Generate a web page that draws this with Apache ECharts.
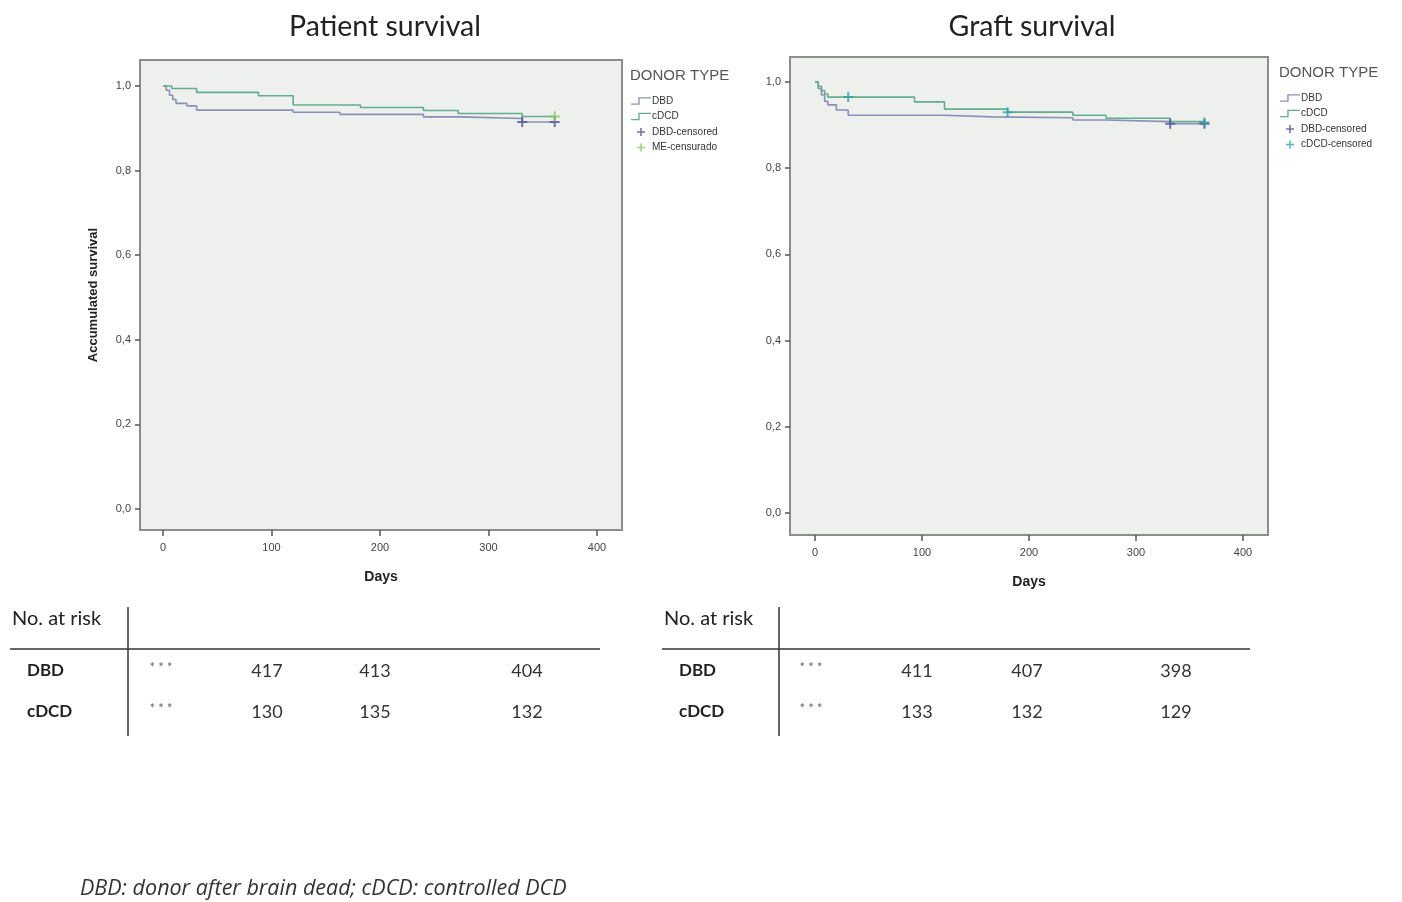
<!DOCTYPE html>
<html>
<head>
<meta charset="utf-8">
<script src="https://cdn.jsdelivr.net/npm/echarts@6/dist/echarts.min.js"></script>
<style>
html,body{margin:0;padding:0;background:#fff;}
#chart{width:1402px;height:902px;}
</style>
</head>
<body>
<div id="chart"></div>
<script>
// ---------- DATA ----------
const chartTitles = ['Patient survival', 'Graft survival'];
const xTickValues = [0, 100, 200, 300, 400];
const yTickValues = [0, 0.2, 0.4, 0.6, 0.8, 1.0];

// Patient survival (Kaplan-Meier steps)
const patientDBDDays = [0, 3, 6, 9, 12, 22, 31, 120, 163, 240, 274, 331, 361];
const patientDBDSurv = [1.0, 0.99, 0.978, 0.968, 0.959, 0.953, 0.943, 0.938, 0.933, 0.927, 0.923, 0.915, 0.915];
const patientCDCDDays = [0, 8, 31, 88, 120, 182, 240, 272, 331, 361];
const patientCDCDSurv = [1.0, 0.994, 0.985, 0.977, 0.955, 0.949, 0.942, 0.935, 0.928, 0.928];
const patientDBDCensDays = [331, 361];
const patientDBDCensSurv = [0.915, 0.915];
const patientCDCDCensDays = [361];
const patientCDCDCensSurv = [0.928];

// Graft survival
const graftDBDDays = [0, 3, 6, 9, 12, 20, 31, 120, 166, 241, 272, 332, 364];
const graftDBDSurv = [1.0, 0.985, 0.97, 0.955, 0.947, 0.935, 0.923, 0.919, 0.917, 0.912, 0.908, 0.903, 0.903];
const graftCDCDDays = [0, 3, 6, 9, 12, 93, 121, 180, 241, 272, 332, 364];
const graftCDCDSurv = [1.0, 0.99, 0.98, 0.972, 0.965, 0.954, 0.937, 0.93, 0.923, 0.916, 0.908, 0.906];
const graftDBDCensDays = [332, 364];
const graftDBDCensSurv = [0.903, 0.903];
const graftCDCDCensDays = [31, 180, 364];
const graftCDCDCensSurv = [0.965, 0.93, 0.906];

const legendTitle = 'DONOR TYPE';
const patientLegendNames = ['DBD', 'cDCD', 'DBD-censored', 'ME-censurado'];
const graftLegendNames = ['DBD', 'cDCD', 'DBD-censored', 'cDCD-censored'];

// No. at risk tables
const riskHeader = 'No. at risk';
const riskRowLabels = ['DBD', 'cDCD'];
const patientRiskDBD = ['***', '417', '413', '404'];
const patientRiskCDCD = ['***', '130', '135', '132'];
const graftRiskDBD = ['***', '411', '407', '398'];
const graftRiskCDCD = ['***', '133', '132', '129'];

const footnote = 'DBD: donor after brain dead; cDCD: controlled DCD';

// ---------- STYLE / LAYOUT ----------
const FONT = 'Lato, "Open Sans", "DejaVu Sans", sans-serif';
const FOOTFONT = '"Open Sans", Lato, sans-serif';
const AXFONT = '"Liberation Sans", Arial, sans-serif';
const C_DBD = '#8a8fb8';
const C_CDCD = '#62ad8e';
const C_DBD_CENS = '#4f4f9a';
const C_ME_CENS = '#8cc45a';
const C_CDCD_CENS = '#2fa3a0';
const PLUS = 'path://M4,0h2v10h-2zM0,4h10v2h-10z';
const STEP = 'path://M0,7h8v-7h14v1.5h-12.5v7h-9.5z';

const zip = (a, b) => a.map((v, i) => [v, b[i]]);
const fmtY = v => v.toFixed(1).replace('.', ',');

const grids = [
  {left: 140, top: 60, width: 482, height: 470},
  {left: 790, top: 57, width: 478, height: 478}
];
const xRanges = [[-21.2, 423], [-23.4, 423.4]];
const yRanges = [[-0.05, 1.0615], [-0.0510, 1.058]];

function mkX(i) {
  return {
    type: 'value', gridIndex: i, min: xRanges[i][0], max: xRanges[i][1],
    name: 'Days', nameLocation: 'middle', nameGap: 40,
    nameTextStyle: {fontFamily: AXFONT, fontWeight: 'bold', fontSize: 14, color: '#222'},
    axisLine: {show: false, onZero: false}, splitLine: {show: false},
    axisTick: {show: true, inside: false, length: 6, customValues: xTickValues, lineStyle: {color: '#555', width: 1.5}},
    axisLabel: {customValues: xTickValues, fontFamily: AXFONT, fontSize: 11, color: '#444', margin: 12}
  };
}
function mkY(i) {
  return {
    type: 'value', gridIndex: i, min: yRanges[i][0], max: yRanges[i][1],
    name: i === 0 ? 'Accumulated survival' : '', nameLocation: 'middle', nameGap: 40,
    nameTextStyle: {fontFamily: AXFONT, fontWeight: 'bold', fontSize: 13, color: '#222'},
    axisLine: {show: false, onZero: false}, splitLine: {show: false},
    axisTick: {show: true, length: 5, customValues: yTickValues, lineStyle: {color: '#555', width: 1.5}},
    axisLabel: {customValues: yTickValues, formatter: fmtY, fontFamily: AXFONT, fontSize: 11, color: '#444', margin: 9}
  };
}
function lineS(name, gi, days, surv, color) {
  return {type: 'line', name, xAxisIndex: gi, yAxisIndex: gi, step: 'end', showSymbol: false,
    data: zip(days, surv), lineStyle: {color, width: 1.6}, itemStyle: {color}, animation: false, silent: true};
}
function censS(name, gi, days, surv, color) {
  return {type: 'scatter', name, xAxisIndex: gi, yAxisIndex: gi, symbol: PLUS, symbolSize: 10,
    data: zip(days, surv), itemStyle: {color}, animation: false, silent: true, z: 5};
}
function mkLegend(i, names, left, top) {
  return {
    left, top, orient: 'vertical', itemWidth: 20, itemHeight: 8, itemGap: 5.5,
    textStyle: {fontFamily: AXFONT, fontSize: 10, color: '#333', lineHeight: 10, padding: [0, 0, 0, -4]},
    selectedMode: false,
    data: names.map((n, k) => ({name: n, icon: k < 2 ? STEP : PLUS}))
  };
}

// table graphics
function tableGraphics(x0, vx, hx1, cols, dbd, cdcd) {
  const g = [];
  g.push({type: 'text', left: x0, top: 609, style: {text: riskHeader, font: '20px ' + FONT, fill: '#222'}});
  g.push({type: 'line', shape: {x1: vx, y1: 607, x2: vx, y2: 736}, style: {stroke: '#333', lineWidth: 1.5}});
  g.push({type: 'line', shape: {x1: x0 - 2, y1: 649, x2: hx1, y2: 649}, style: {stroke: '#333', lineWidth: 1.5}});
  [dbd, cdcd].forEach((row, r) => {
    const y = r === 0 ? 671 : 712;
    g.push({type: 'text', x: x0 + 15, y, style: {text: riskRowLabels[r], font: 'bold 17px ' + FONT, fill: '#222', textVerticalAlign: 'middle'}});
    row.forEach((v, c) => {
      const isStar = c === 0;
      g.push({type: 'text', x: cols[c], y: isStar ? y - 3 : y,
        style: {text: isStar ? '* * *' : v, font: (isStar ? '13px ' : '18px ') + FONT, fill: isStar ? '#666' : '#333',
          textAlign: 'center', textVerticalAlign: 'middle'}});
    });
  });
  return g;
}

const graphics = [
  {type: 'text', x: 630, y: 76, style: {text: legendTitle, font: '15px ' + AXFONT, fill: '#555', textVerticalAlign: 'middle'}},
  {type: 'text', x: 1279, y: 73, style: {text: legendTitle, font: '15px ' + AXFONT, fill: '#555', textVerticalAlign: 'middle'}},
  {type: 'text', left: 80, top: 878, style: {text: footnote, font: 'italic 21.5px ' + FOOTFONT, fill: '#333'}}
]
  .concat(tableGraphics(12, 128, 600, [161, 267, 375, 527], patientRiskDBD, patientRiskCDCD))
  .concat(tableGraphics(664, 779, 1250, [811, 917, 1027, 1176], graftRiskDBD, graftRiskCDCD));

const option = {
  backgroundColor: '#ffffff',
  animation: false,
  title: [
    {text: chartTitles[0], left: 380, top: 7, textAlign: 'center', textStyle: {fontFamily: FONT, fontSize: 28.5, fontWeight: 'normal', color: '#222'}},
    {text: chartTitles[1], left: 1027, top: 7, textAlign: 'center', textStyle: {fontFamily: FONT, fontSize: 28.5, fontWeight: 'normal', color: '#222'}}
  ],
  grid: grids.map(g => Object.assign({show: true, backgroundColor: '#eef0ee', borderColor: '#8c8c8c', borderWidth: 2}, g)),
  xAxis: [mkX(0), mkX(1)],
  yAxis: [mkY(0), mkY(1)],
  legend: [mkLegend(0, patientLegendNames, 626, 91), mkLegend(1, graftLegendNames, 1275, 88)],
  series: [
    lineS('DBD', 0, patientDBDDays, patientDBDSurv, C_DBD),
    lineS('cDCD', 0, patientCDCDDays, patientCDCDSurv, C_CDCD),
    censS('DBD-censored', 0, patientDBDCensDays, patientDBDCensSurv, C_DBD_CENS),
    censS('ME-censurado', 0, patientCDCDCensDays, patientCDCDCensSurv, C_ME_CENS),
    lineS('DBD', 1, graftDBDDays, graftDBDSurv, C_DBD),
    lineS('cDCD', 1, graftCDCDDays, graftCDCDSurv, C_CDCD),
    censS('DBD-censored', 1, graftDBDCensDays, graftDBDCensSurv, C_DBD_CENS),
    censS('cDCD-censored', 1, graftCDCDCensDays, graftCDCDCensSurv, C_CDCD_CENS)
  ],
  graphic: graphics
};

const chart = echarts.init(document.getElementById('chart'), null, {renderer: 'canvas'});
chart.setOption(option);
</script>
</body>
</html>
